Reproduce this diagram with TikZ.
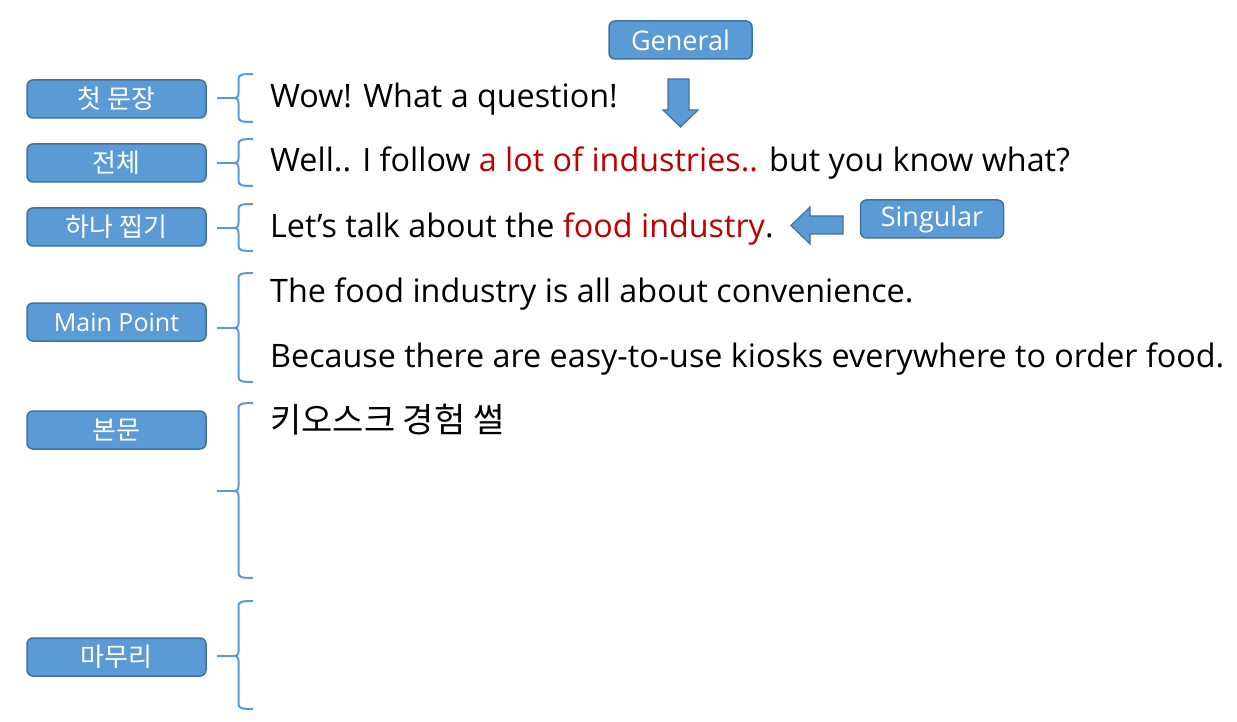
\documentclass[tikz,border=0pt]{standalone}
\usepackage{fontspec}
\setmainfont{Open Sans}
\newfontfamily\kr{Noto Sans CJK KR}
\definecolor{boxfill}{HTML}{5B9BD5}
\definecolor{boxline}{HTML}{41719C}
\definecolor{bracecol}{HTML}{5B9BD5}
\definecolor{redtxt}{HTML}{C00000}
\begin{document}
\begin{tikzpicture}[x=1pt,y=-1pt,
  lbl/.style={draw=boxline, fill=boxfill, line width=1.5pt, rounded corners=6pt, minimum width=179pt, minimum height=38pt, inner sep=0pt, text=white, font=\fontsize{25}{28}\selectfont},
  tag/.style={draw=boxline, fill=boxfill, line width=1.5pt, rounded corners=6pt, minimum width=143pt, minimum height=38pt, inner sep=0pt, text=white, font=\fontsize{27}{30}\selectfont},
  txt/.style={anchor=base west, inner sep=0pt, font=\fontsize{32.3}{35}\selectfont},
  brc/.style={draw=bracecol, line width=2pt},
  blockarrow/.style={draw=boxline, fill=boxfill, line width=1.2pt, line join=miter}
]
\useasboundingbox (0,0) rectangle (1237,722);
% labels
\node[lbl] (l1) at (116.5,99) {\kr\fontsize{26}{28}\selectfont 첫 문장};
\node[lbl] (l2) at (116.5,163) {\kr\fontsize{26}{28}\selectfont 전체};
\node[lbl] (l3) at (116.5,227) {\kr\fontsize{26}{28}\selectfont 하나 찝기};
\node[lbl] (l4) at (116.5,322) {Main Point};
\node[lbl] (l5) at (116.5,430) {\kr\fontsize{26}{28}\selectfont 본문};
\node[lbl] (l6) at (116.5,657) {\kr\fontsize{26}{28}\selectfont 마무리};
% braces
\foreach \n/\t/\m/\b in {1/74/98/122, 2/139/163/186, 3/204/228/251, 4/273/328/382, 5/403/491/578, 6/601/656/709}{
  \coordinate (t\n) at (233,\m);
  \coordinate (c\n) at (217,\m);
  \draw[brc] (253,\t) .. controls (241,\t) and (238.5,\t+1) .. (238.5,\t+5) -- (238.5,\m-5) .. controls (238.5,\m-1) and (237,\m) .. (t\n) .. controls (237,\m) and (238.5,\m+1) .. (238.5,\m+5) -- (238.5,\b-5) .. controls (238.5,\b-1) and (241,\b) .. (253,\b);
  \draw[brc] (c\n) -- (t\n);
}
% texts
\node[txt] (s1) at (270,108) {Wow! What a question!};
\node[txt] (s2) at (270,172) {Well.. I follow \textcolor{redtxt}{a lot of industries..} but you know what?};
\node[txt] (s3) at (270,237) {Let’s talk about the \textcolor{redtxt}{food industry}.};
\node[txt] (s4) at (270,302) {The food industry is all about convenience.};
\node[txt] (s5) at (270,367) {Because there are easy-to-use kiosks everywhere to order food.};
\node[txt,font=\kr\fontsize{34}{36}\selectfont] (s6) at (270,432) {키오스크 경험 썰};
% tags
\node[tag] (gen) at (680.5,40) {General};
\node[tag] (sing) at (932,219) {Singular};
% block arrows
\draw[blockarrow] (668,79) -- (689,79) -- (689,110) -- (698,110) -- (680.5,127) -- (663,110) -- (668,110) -- cycle;
\draw[blockarrow] (843,216) -- (810,216) -- (810,207) -- (791,225.5) -- (810,244) -- (810,234) -- (843,234) -- cycle;
\end{tikzpicture}
\end{document}
